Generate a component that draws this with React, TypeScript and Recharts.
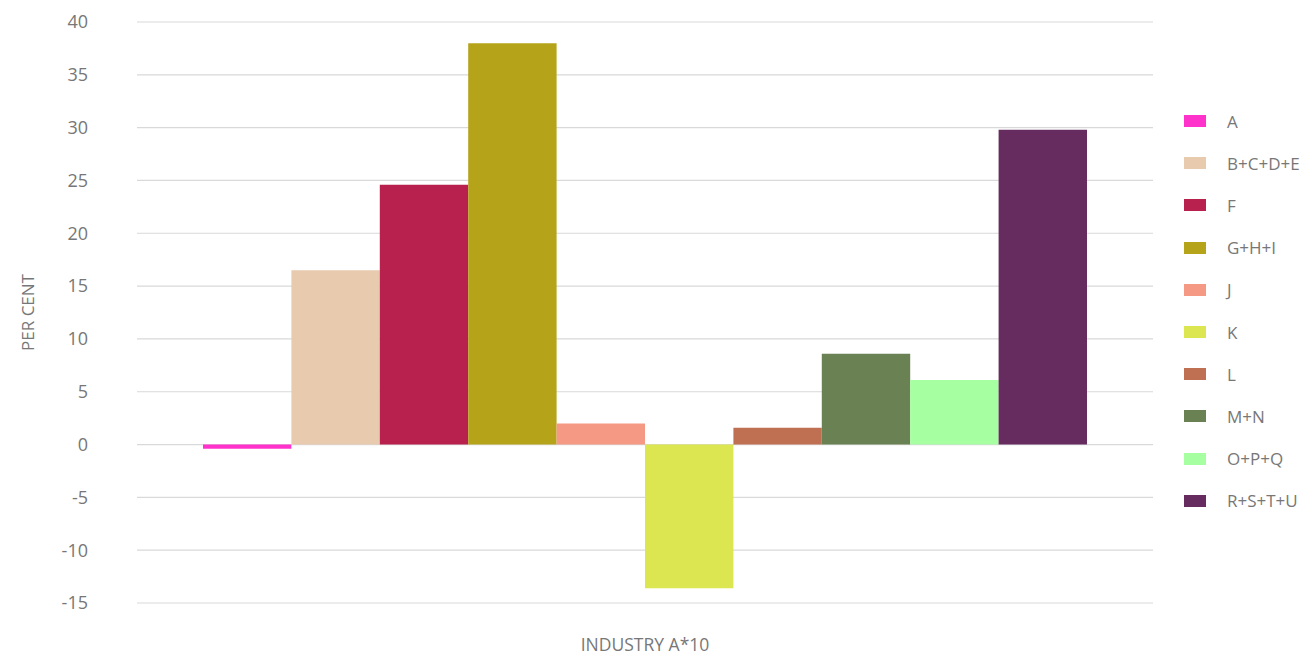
import React from "react";
import { BarChart, Bar, XAxis, YAxis, CartesianGrid } from "recharts";

const categories = ["INDUSTRY A*10"];
const seriesNames = ["A", "B+C+D+E", "F", "G+H+I", "J", "K", "L", "M+N", "O+P+Q", "R+S+T+U"];
const seriesValues = [-0.4, 16.5, 24.6, 38.0, 2.0, -13.6, 1.6, 8.6, 6.1, 29.8];
const seriesColors = [
  "#FF33CC",
  "#E8CAAE",
  "#B8204E",
  "#B5A319",
  "#F59884",
  "#DBE650",
  "#C07052",
  "#6A8153",
  "#A6FFA0",
  "#672C5F",
];
const yTicks = [-15, -10, -5, 0, 5, 10, 15, 20, 25, 30, 35, 40];

const data = categories.map((name) => {
  const row: Record<string, string | number> = { name };
  seriesNames.forEach((s, i) => {
    row[s] = seriesValues[i];
  });
  return row;
});

const font = "'Open Sans', sans-serif";
const grey = "#777";

function YLabel(props: any) {
  const vb = props.viewBox || { y: 22, height: 581 };
  const cy = vb.y + vb.height / 2;
  return (
    <text
      x={27}
      y={cy}
      transform={`rotate(-90, 27, ${cy})`}
      textAnchor="middle"
      dominantBaseline="central"
      fill={grey}
      fontFamily={font}
      fontSize={17}
    >
      PER CENT
    </text>
  );
}

export default function App() {
  return (
    <div style={{ position: "absolute", left: 0, top: 0, width: 1310, height: 657, background: "#fff" }}>
      <BarChart
        width={1310}
        height={657}
        data={data}
        margin={{ top: 22, right: 157, bottom: 0, left: 0 }}
        barGap={0}
      >
        <CartesianGrid vertical={false} stroke="#d9d9d9" strokeWidth={1.2} />
        <XAxis
          dataKey="name"
          height={54}
          axisLine={false}
          tickLine={false}
          tickSize={0}
          tickMargin={36}
          tick={{ fill: grey, fontFamily: font, fontSize: 17.5 }}
        />
        <YAxis
          width={137}
          domain={[-15, 40]}
          ticks={yTicks}
          interval={0}
          axisLine={false}
          tickLine={false}
          tickSize={0}
          tickMargin={49}
          tick={{ fill: grey, fontFamily: font, fontSize: 18 }}
          label={<YLabel />}
        />
        {seriesNames.map((s, i) => (
          <Bar key={s} dataKey={s} fill={seriesColors[i]} barSize={88.4} isAnimationActive={false} />
        ))}
      </BarChart>
      <div style={{ position: "absolute", left: 1184, top: 100 }}>
        {seriesNames.map((s, i) => (
          <div
            key={s}
            style={{ position: "absolute", top: i * 42.2, left: 0, height: 42, display: "flex", alignItems: "center", whiteSpace: "nowrap" }}
          >
            <span style={{ display: "inline-block", width: 22, height: 12, background: seriesColors[i] }} />
            <span style={{ marginLeft: 21, color: grey, fontFamily: font, fontSize: 17 }}>{s}</span>
          </div>
        ))}
      </div>
    </div>
  );
}
